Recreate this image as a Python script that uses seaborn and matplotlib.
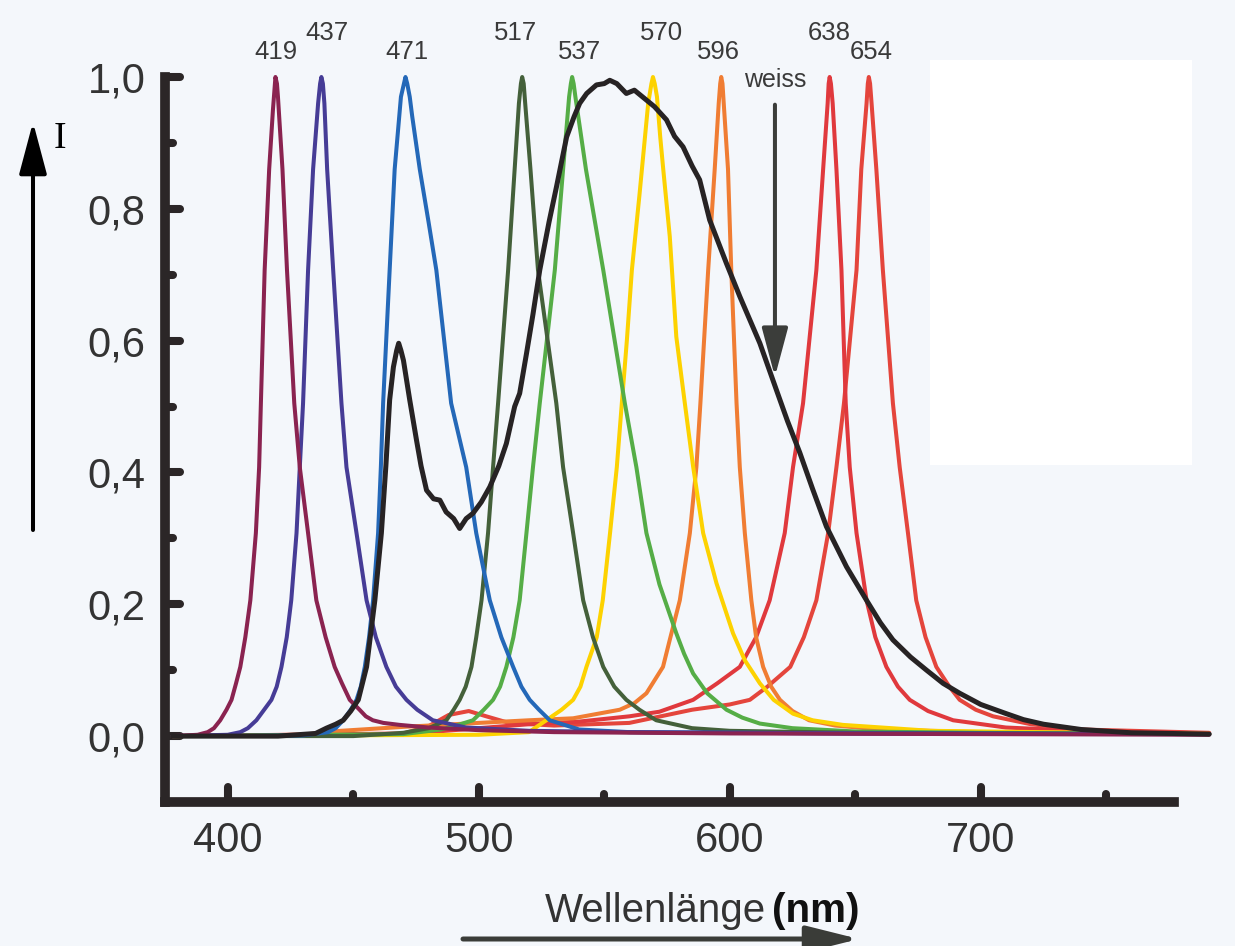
import numpy as np
import pandas as pd
import matplotlib
matplotlib.use("Agg")
import matplotlib.pyplot as plt
from matplotlib.markers import MarkerStyle
from matplotlib.patches import Rectangle, FancyArrowPatch
import seaborn as sns

# ---------------- data ----------------
wl_419 = [378, 388, 392, 394.5, 397, 399.5, 401.5, 403.3, 405, 407,
          409, 411.2, 412.5, 413.2, 414.7, 416.5, 418, 418.6, 419, 419.6,
          420, 421.8, 423.6, 426.5, 428.7, 432, 435.3, 439, 442.6, 445.5,
          448.6, 452.5, 455, 457.8, 462, 468.5, 480, 500, 530, 600,
          700, 791]
i_419 = [0.0, 0.002, 0.006, 0.012, 0.024, 0.04, 0.055, 0.08, 0.105, 0.15,
         0.206, 0.308, 0.408, 0.505, 0.707, 0.86, 0.95, 0.98, 1.0, 0.99,
         0.97, 0.86, 0.707, 0.505, 0.408, 0.308, 0.206, 0.15, 0.105, 0.08,
         0.055, 0.04, 0.03, 0.024, 0.02, 0.017, 0.013, 0.009, 0.006, 0.004,
         0.003, 0.002]

wl_437 = [378, 400, 405, 408, 411.4, 414.5, 417.4, 419.5, 421.4, 423.5,
          425.3, 427.4, 428.7, 430, 432, 434, 436, 436.8, 437.3, 437.9,
          438.5, 439.6, 442, 445.3, 447.3, 451.3, 455.3, 459, 463.2, 467,
          471.2, 475.5, 481.7, 495, 520, 560, 650, 791]
i_437 = [0.0, 0.002, 0.006, 0.012, 0.024, 0.04, 0.055, 0.075, 0.105, 0.15,
         0.206, 0.308, 0.408, 0.505, 0.707, 0.86, 0.96, 0.99, 1.0, 0.99,
         0.96, 0.86, 0.707, 0.505, 0.408, 0.308, 0.206, 0.15, 0.105, 0.075,
         0.055, 0.04, 0.024, 0.013, 0.008, 0.006, 0.004, 0.003]

wl_471 = [378, 430, 440, 443, 446, 449, 451.3, 453, 454.6, 456.3,
          457.9, 459.9, 461, 461.9, 464.5, 466.5, 469, 470.2, 470.8, 471.5,
          472.5, 473.5, 476.5, 480, 483.1, 489, 495, 499, 504.4, 509,
          513.7, 517, 520.3, 524, 528.3, 540, 560, 650, 791]
i_471 = [0.0, 0.001, 0.006, 0.012, 0.024, 0.04, 0.055, 0.075, 0.105, 0.15,
         0.206, 0.308, 0.408, 0.505, 0.707, 0.86, 0.97, 0.99, 1.0, 0.99,
         0.97, 0.94, 0.86, 0.78, 0.707, 0.505, 0.408, 0.308, 0.206, 0.15,
         0.105, 0.075, 0.055, 0.04, 0.024, 0.01, 0.006, 0.004, 0.003]

wl_517 = [378, 450, 470, 480, 487.1, 490, 492.4, 494.8, 497.1, 499,
          501.1, 503.7, 505.7, 507.7, 511.7, 514.3, 516, 516.8, 517.3, 517.9,
          518.5, 520.6, 523.6, 530.9, 533.6, 537.6, 541.6, 545.5, 549.6, 554,
          558.8, 564, 570.7, 585, 600, 650, 791]
i_517 = [0.0, 0.0, 0.005, 0.012, 0.024, 0.04, 0.055, 0.075, 0.105, 0.15,
         0.206, 0.308, 0.408, 0.505, 0.707, 0.86, 0.96, 0.99, 1.0, 0.99,
         0.96, 0.86, 0.707, 0.505, 0.408, 0.308, 0.206, 0.15, 0.105, 0.075,
         0.055, 0.04, 0.024, 0.012, 0.008, 0.005, 0.003]

wl_537 = [378, 470, 485, 491, 497.7, 502, 505.7, 508.5, 511, 513.8,
          516.3, 519, 521.6, 524.3, 530.3, 533.6, 536, 536.7, 537.2, 537.8,
          538.5, 542.7, 549.6, 558.2, 562.8, 566.8, 572, 578.7, 581.8, 585.4,
          591, 598.7, 605, 612, 625, 650, 700, 791]
i_537 = [0.0, 0.003, 0.01, 0.016, 0.024, 0.04, 0.055, 0.075, 0.105, 0.15,
         0.206, 0.308, 0.408, 0.505, 0.707, 0.86, 0.97, 0.99, 1.0, 0.99,
         0.97, 0.86, 0.707, 0.505, 0.408, 0.308, 0.23, 0.156, 0.125, 0.095,
         0.065, 0.04, 0.028, 0.019, 0.012, 0.007, 0.005, 0.003]

wl_570 = [378, 500, 520, 526.9, 533, 537.6, 540.5, 542.9, 547, 549.4,
          552.3, 555, 557, 559, 561, 564, 567.5, 568.8, 569.4, 570.1,
          571, 572.3, 573.5, 576.1, 578.7, 582.1, 585.4, 589.4, 594.7, 601.3,
          606, 612, 617.5, 625.2, 633, 645, 680, 791]
i_570 = [0.0, 0.002, 0.006, 0.024, 0.04, 0.055, 0.075, 0.105, 0.15, 0.206,
         0.308, 0.408, 0.505, 0.6, 0.707, 0.82, 0.96, 0.99, 1.0, 0.99,
         0.97, 0.909, 0.86, 0.758, 0.606, 0.505, 0.409, 0.308, 0.232, 0.156,
         0.115, 0.08, 0.055, 0.034, 0.024, 0.017, 0.008, 0.003]

wl_596 = [378, 430, 445, 470, 500, 520, 537.6, 556.2, 562, 566.8,
          573.4, 576.1, 580.1, 584.1, 586.7, 588.3, 591.4, 594, 595.6, 596.2,
          596.6, 597.1, 597.6, 599.3, 600.6, 602.7, 604, 606, 608.6, 610.5,
          613.3, 616.5, 620, 625, 631.6, 642, 660, 700, 791]
i_596 = [0.0, 0.002, 0.008, 0.014, 0.02, 0.024, 0.027, 0.04, 0.05, 0.065,
         0.105, 0.146, 0.206, 0.308, 0.408, 0.505, 0.707, 0.86, 0.96, 0.99,
         1.0, 0.99, 0.96, 0.86, 0.707, 0.505, 0.408, 0.308, 0.206, 0.15,
         0.105, 0.075, 0.055, 0.038, 0.024, 0.016, 0.01, 0.006, 0.004]

wl_638 = [378, 470, 500, 520, 540, 560, 572, 585.4, 595, 604,
          610.5, 615.9, 621.9, 625.2, 629.2, 634.5, 637.2, 639, 639.4, 639.8,
          640.3, 641, 642.5, 644.5, 646.2, 647.8, 650.5, 654.5, 658, 662.4,
          667, 671.7, 679, 689, 710, 740, 791]
i_638 = [0.0, 0.003, 0.012, 0.018, 0.022, 0.03, 0.037, 0.055, 0.08, 0.105,
         0.15, 0.206, 0.308, 0.408, 0.505, 0.707, 0.86, 0.96, 0.99, 1.0,
         0.99, 0.96, 0.86, 0.707, 0.505, 0.408, 0.308, 0.206, 0.15, 0.105,
         0.075, 0.055, 0.038, 0.024, 0.013, 0.008, 0.004]

wl_654 = [378, 470, 480, 488, 496, 503, 512, 530, 560, 585,
          600, 608, 615, 624.1, 629.5, 634.5, 639.2, 642.5, 645.5, 650.5,
          652.4, 654.5, 655, 655.4, 655.9, 656.5, 658.4, 661, 665, 667.7,
          671, 674.3, 678, 682.3, 687.5, 691.6, 698, 704.9, 720, 740,
          791]
i_654 = [0.0, 0.004, 0.015, 0.032, 0.038, 0.03, 0.02, 0.016, 0.02, 0.04,
         0.048, 0.055, 0.075, 0.105, 0.15, 0.206, 0.308, 0.408, 0.505, 0.707,
         0.86, 0.96, 0.99, 1.0, 0.99, 0.96, 0.86, 0.707, 0.505, 0.408,
         0.308, 0.206, 0.15, 0.105, 0.075, 0.055, 0.04, 0.03, 0.018, 0.01,
         0.005]

wl_weiss = [378, 420, 435, 439.3, 443, 446, 449, 452, 455.3, 458.6,
            461.2, 463, 464.5, 466, 467.3, 468.1, 469, 470, 472.5, 475.2,
            477, 479.2, 482, 484.5, 487, 490, 492.4, 495, 497.7, 501,
            504.4, 508, 511, 514.3, 516.3, 519, 521.6, 524.3, 528, 531,
            535, 538, 540.2, 543, 546.9, 550, 552.2, 555, 558.8, 562,
            566.8, 570, 574.8, 578, 581.4, 585, 588, 592, 598.7, 604,
            612, 618.6, 623, 627.9, 633, 638.5, 646.5, 654.5, 660, 665,
            672, 678.4, 685, 691.6, 700, 710.2, 717, 725, 740, 760,
            791]
i_weiss = [0.0, 0.0, 0.004, 0.012, 0.018, 0.024, 0.038, 0.055, 0.105, 0.206,
           0.308, 0.41, 0.51, 0.56, 0.585, 0.596, 0.585, 0.57, 0.51, 0.449,
           0.41, 0.373, 0.36, 0.358, 0.34, 0.33, 0.315, 0.33, 0.338, 0.355,
           0.378, 0.41, 0.444, 0.5, 0.52, 0.58, 0.64, 0.707, 0.78, 0.834,
           0.909, 0.94, 0.96, 0.975, 0.988, 0.99, 0.995, 0.99, 0.975, 0.98,
           0.965, 0.955, 0.935, 0.91, 0.894, 0.865, 0.844, 0.783, 0.717, 0.667,
           0.596, 0.525, 0.478, 0.43, 0.375, 0.318, 0.257, 0.206, 0.172, 0.146,
           0.12, 0.1, 0.08, 0.065, 0.048, 0.034, 0.025, 0.018, 0.01, 0.005,
           0.003]

peak_labels = ["419", "437", "471", "517", "537", "570", "596", "638", "654"]
x_ticks = [400, 500, 600, 700]
x_tick_labels = ["400", "500", "600", "700"]
x_minor = [450, 550, 650, 750]
y_ticks = [0.0, 0.2, 0.4, 0.6, 0.8, 1.0]
y_tick_labels = ["0,0", "0,2", "0,4", "0,6", "0,8", "1,0"]
y_minor = [0.1, 0.3, 0.5, 0.7, 0.9]

# ---------------- styling ----------------
colors = {"419": "#8a2350", "437": "#463c96", "471": "#2468b8", "517": "#44603a",
          "537": "#55ad46", "570": "#fdd200", "596": "#f07d33", "638": "#e0393d",
          "654": "#e4453c"}
draw_order = ["654", "638", "596", "570", "537", "517", "471", "437", "419"]
label_x = [419.1, 439.6, 471.5, 514.7, 540.2, 572.8, 595.3, 639.8, 656.5]
label_high = [False, True, False, True, False, True, False, True, False]

sns.set_style("ticks")
plt.rcParams["font.family"] = ["Liberation Sans", "DejaVu Sans"]

W, H = 1235, 946
BG = "#f4f7fb"
fig = plt.figure(figsize=(W / 100, H / 100), dpi=100, facecolor=BG)
ax = fig.add_axes([165 / W, (H - 802) / H, 1049.2 / W, 725 / H])
ax.set_facecolor("none")

fig.add_artist(Rectangle((930 / W, 1 - 465 / H), 262 / W, 405 / H,
                         transform=fig.transFigure, facecolor="white",
                         edgecolor="none", zorder=-5))

series = {"419": (wl_419, i_419), "437": (wl_437, i_437), "471": (wl_471, i_471),
          "517": (wl_517, i_517), "537": (wl_537, i_537), "570": (wl_570, i_570),
          "596": (wl_596, i_596), "638": (wl_638, i_638), "654": (wl_654, i_654)}
df = pd.concat([pd.DataFrame({"wl": series[k][0], "I": series[k][1], "LED": k})
                for k in draw_order], ignore_index=True)
df_w = pd.DataFrame({"wl": wl_weiss, "I": i_weiss})

sns.lineplot(data=df, x="wl", y="I", hue="LED", hue_order=draw_order, palette=colors,
             estimator=None, sort=False, linewidth=2.9, legend=False, ax=ax,
             solid_joinstyle="round", solid_capstyle="round")
sns.lineplot(data=df_w, x="wl", y="I", color="#272324", estimator=None, sort=False,
             linewidth=3.6, legend=False, ax=ax, solid_joinstyle="round")
for ln in ax.lines:
    ln.set_clip_on(False)

ax.set_xlim(375, 793)
ax.set_ylim(-0.1, 1.0)
ax.set_xlabel("")
ax.set_ylabel("")

ax.set_xticks(x_ticks)
ax.set_xticklabels(x_tick_labels)
ax.set_xticks(x_minor, minor=True)
ax.set_yticks(y_ticks)
ax.set_yticklabels(y_tick_labels)
ax.set_yticks(y_minor, minor=True)

SP = "#2b2627"
ax.tick_params(which="both", direction="in", width=5.8, color=SP,
               top=False, right=False)
ax.tick_params(which="major", length=11)
ax.tick_params(which="minor", length=5.5)
ax.tick_params(axis="both", which="major", labelsize=30, labelcolor="#333333", pad=14)

for s in ["top", "right"]:
    ax.spines[s].set_visible(False)
for s in ["left", "bottom"]:
    ax.spines[s].set_linewidth(7)
    ax.spines[s].set_color(SP)
ax.spines["left"].set_bounds(-0.1, 1.0)
ax.spines["bottom"].set_bounds(375, 777)
ax.spines["bottom"].set_capstyle("projecting")

for t in (ax.xaxis.get_major_ticks() + ax.xaxis.get_minor_ticks()
          + ax.yaxis.get_major_ticks() + ax.yaxis.get_minor_ticks()):
    tl = t.tick1line
    tl.set_marker(MarkerStyle(tl.get_marker(), capstyle="round"))

# peak labels
for lab, lx, hi in zip(peak_labels, label_x, label_high):
    ax.text(lx, 1.067 if hi else 1.038, lab, ha="center", va="center",
            fontsize=18.5, color="#3a3a3a", clip_on=False)

# "weiss" label + arrow
ax.text(618, 0.995, "weiss", ha="center", va="center", fontsize=18, color="#3a3a3a")
ax.annotate("", xy=(618, 0.545), xytext=(618, 0.958), xycoords="data",
            arrowprops=dict(arrowstyle="-|>,head_length=3.0,head_width=0.8",
                            mutation_scale=10, lw=2.9, color="#3b3d3a",
                            shrinkA=0, shrinkB=0))

# intensity arrow
fig.add_artist(FancyArrowPatch((33 / W, 1 - 530 / H), (33 / W, 1 - 122 / H),
                               transform=fig.transFigure,
                               arrowstyle="-|>,head_length=3.2,head_width=0.85",
                               mutation_scale=10, lw=2.9, color="black",
                               shrinkA=0, shrinkB=0))
fig.text(60 / W, 1 - 139 / H, "I", ha="center", va="center", fontsize=27,
         family=["Liberation Serif", "DejaVu Serif"], color="black")

# wavelength label + arrow
fig.text(766 / W, 1 - 922 / H, "Wellenlänge", ha="right", va="baseline",
         fontsize=29, color="#333333")
fig.text(772 / W, 1 - 922 / H, "(nm)", ha="left", va="baseline",
         fontsize=29, color="#111111", fontweight="bold")
fig.add_artist(FancyArrowPatch((463 / W, 1 - 939 / H), (859 / W, 1 - 939 / H),
                               transform=fig.transFigure,
                               arrowstyle="-|>,head_length=3.2,head_width=0.8",
                               mutation_scale=10, lw=3.6, color="#3a3c38",
                               shrinkA=0, shrinkB=0))

fig.savefig("out.png", dpi=100, facecolor=BG)
